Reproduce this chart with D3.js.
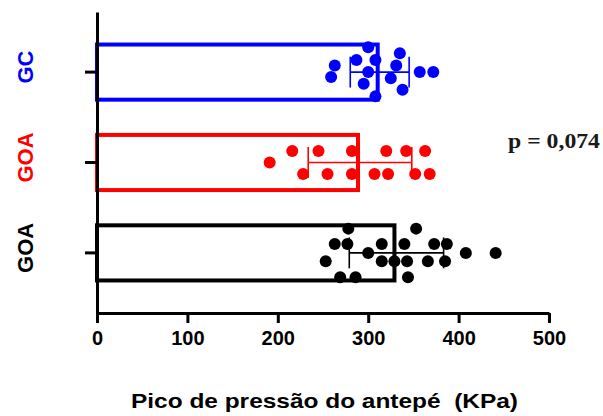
<!DOCTYPE html>
<html>
<head>
<meta charset="utf-8">
<script src="https://cdn.jsdelivr.net/npm/d3@7"></script>
<style>
  html, body { margin: 0; padding: 0; background: #fff; }
  svg { display: block; }
</style>
</head>
<body>
<div id="chart"></div>
<script>
// ---- data ----
const groupIds = ["GC", "GOA_red", "GOA_black"];
const groupLabels = ["GC", "GOA", "GOA"];
const groupColors = ["#0000ff", "#ff0000", "#000000"];

const gcValues = [300, 335, 287, 308, 263, 331, 259, 300, 325, 357, 372, 295, 338, 308];
const gcJitter = [-0.45, -0.34, -0.22, -0.22, -0.12, -0.12, 0.09, 0, 0.11, 0, 0, 0.21, 0.32, 0.44];

const goaRedValues = [191, 216, 245, 282, 320, 342, 363, 228, 255, 282, 307, 322, 352, 368];
const goaRedJitter = [0, -0.21, -0.21, -0.21, -0.21, -0.21, -0.21, 0.21, 0.21, 0.21, 0.21, 0.21, 0.21, 0.21];

const goaBlackValues = [278, 353, 263, 277, 315, 340, 373, 387, 300, 408, 441, 253, 315, 329, 343, 366, 385, 269, 286, 344];
const goaBlackJitter = [-0.44, -0.44, -0.16, -0.16, -0.16, -0.16, -0.16, -0.16, 0, 0, 0, 0.15, 0.15, 0.15, 0.15, 0.15, 0.15, 0.44, 0.44, 0.44];

const xTicks = [0, 100, 200, 300, 400, 500];
const xTitle = "Pico de pressão do antepé  (KPa)";
const pText = "p = 0,074";

const groups = [
  { id: groupIds[0], label: groupLabels[0], color: groupColors[0], values: gcValues, jitter: gcJitter },
  { id: groupIds[1], label: groupLabels[1], color: groupColors[1], values: goaRedValues, jitter: goaRedJitter },
  { id: groupIds[2], label: groupLabels[2], color: groupColors[2], values: goaBlackValues, jitter: goaBlackJitter }
];
groups.forEach(g => { g.mean = d3.mean(g.values); g.sd = d3.deviation(g.values); });

// ---- layout ----
const W = 603, H = 416;
const mLeft = 97, mRight = 549, mTop = 12, mBottom = 313;

const svg = d3.select("#chart").append("svg").attr("width", W).attr("height", H);

const x = d3.scaleLinear().domain([0, 500]).range([mLeft, mRight]);
const y = d3.scaleBand().domain(groupIds).range([mTop, mBottom]).paddingInner(0.39).paddingOuter(0.36);
const bw = y.bandwidth();
const sw = 4;

// bars
svg.append("g").selectAll("rect").data(groups).join("rect")
  .attr("x", x(0))
  .attr("y", d => y(d.id))
  .attr("width", d => x(d.mean) - x(0) - sw / 2)
  .attr("height", bw)
  .attr("fill", "none")
  .attr("stroke", d => d.color)
  .attr("stroke-width", sw);

// error bars (mean ± SD)
const eb = svg.append("g").selectAll("g").data(groups).join("g")
  .attr("stroke", d => d.color).attr("stroke-width", 1.6).attr("fill", "none");
eb.append("line")
  .attr("x1", d => x(d.mean - d.sd)).attr("x2", d => x(d.mean + d.sd))
  .attr("y1", d => y(d.id) + bw / 2).attr("y2", d => y(d.id) + bw / 2);
eb.append("line")
  .attr("x1", d => x(d.mean - d.sd)).attr("x2", d => x(d.mean - d.sd))
  .attr("y1", d => y(d.id) + bw / 2 - bw * 0.28).attr("y2", d => y(d.id) + bw / 2 + bw * 0.28);
eb.append("line")
  .attr("x1", d => x(d.mean + d.sd)).attr("x2", d => x(d.mean + d.sd))
  .attr("y1", d => y(d.id) + bw / 2 - bw * 0.28).attr("y2", d => y(d.id) + bw / 2 + bw * 0.28);

// dots
groups.forEach(g => {
  svg.append("g").selectAll("circle").data(g.values).join("circle")
    .attr("cx", v => x(v))
    .attr("cy", (v, i) => y(g.id) + bw / 2 + g.jitter[i] * bw)
    .attr("r", 6)
    .attr("fill", g.color);
});

// x axis
const xAxis = svg.append("g")
  .attr("transform", `translate(0,${mBottom})`)
  .call(d3.axisBottom(x).tickValues(xTicks).tickSize(10).tickSizeOuter(0).tickPadding(8));
xAxis.select(".domain").attr("stroke", "#000").attr("stroke-width", 3);
xAxis.selectAll(".tick line").attr("stroke", "#000").attr("stroke-width", 3);
xAxis.selectAll(".tick text")
  .attr("font-family", "Liberation Sans, Arial, sans-serif")
  .attr("font-weight", "bold").attr("font-size", 20).attr("fill", "#000");

// y axis
const yAxis = svg.append("g")
  .attr("transform", `translate(${mLeft},0)`)
  .call(d3.axisLeft(y).tickSize(12).tickSizeOuter(0).tickFormat(() => ""));
yAxis.select(".domain").attr("stroke", "#000").attr("stroke-width", 3);
yAxis.selectAll(".tick line").attr("stroke", "#000").attr("stroke-width", 3);

// category labels (rotated)
svg.append("g").selectAll("text").data(groups).join("text")
  .attr("transform", d => `translate(33,${y(d.id) + bw / 2 - 5}) rotate(-90)`)
  .attr("text-anchor", "middle")
  .attr("font-family", "Liberation Sans, Arial, sans-serif")
  .attr("font-weight", "bold").attr("font-size", 22)
  .attr("fill", d => d.color)
  .text(d => d.label);

// x title
svg.append("text")
  .attr("x", 131).attr("y", 408)
  .style("white-space", "pre")
  .attr("font-family", "Liberation Sans, Arial, sans-serif")
  .attr("font-weight", "bold").attr("font-size", 21).attr("fill", "#000")
  .attr("textLength", 387).attr("lengthAdjust", "spacingAndGlyphs")
  .text(xTitle);

// p-value annotation
svg.append("text")
  .attr("x", 508).attr("y", 148)
  .attr("font-family", "Liberation Serif, Times New Roman, serif")
  .attr("font-weight", "bold").attr("font-size", 20).attr("fill", "#1a1a1a")
  .attr("textLength", 92).attr("lengthAdjust", "spacingAndGlyphs")
  .text(pText);
</script>
</body>
</html>
